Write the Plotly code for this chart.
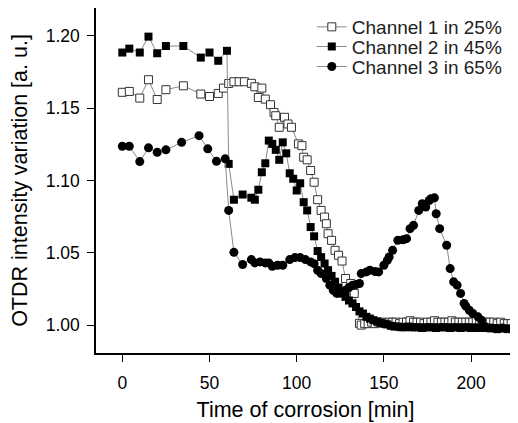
import plotly.graph_objects as go

# Channel 1 in 25% (open squares)
t_ch1 = [0, 4, 10, 15, 20, 25, 35, 45, 50, 55, 58, 61, 64, 67, 70, 74, 76, 78, 80, 82,
         85, 87, 88, 90, 93, 95, 97, 101, 103, 104, 106, 108, 110, 112, 114, 116, 117, 118,
         120, 122, 124, 126, 128, 131, 133, 136, 137, 139, 141, 143, 145, 147, 149, 151, 153,
         155, 157, 159, 161, 163, 165, 167, 169, 171, 173, 175, 177, 179, 181, 183, 185, 187,
         189, 191, 193, 195, 197, 199, 201, 203, 205, 207, 209, 211, 213, 215, 217, 219, 221, 223]
v_ch1 = [1.161, 1.1616, 1.157, 1.1697, 1.156, 1.1628, 1.1655, 1.1598, 1.1581, 1.1602, 1.1639,
         1.1671, 1.1683, 1.1683, 1.1683, 1.1672, 1.1648, 1.1574, 1.1639, 1.1563, 1.1524, 1.1471,
         1.1448, 1.1368, 1.1437, 1.1391, 1.1368, 1.1253, 1.1241, 1.1161, 1.1143, 1.1069, 1.0988,
         1.0867, 1.0793, 1.0747, 1.0701, 1.0632, 1.0586, 1.0517, 1.0483, 1.0443, 1.0322, 1.0288,
         1.0219, 1.0012, 1.000, 1.001, 1.001, 1.002, 1.001, 1.002, 1.002, 1.001, 1.002, 1.002,
         1.002, 1.001, 1.002, 1.002, 1.003, 1.002, 1.002, 1.002, 1.001, 1.002, 1.002, 1.003,
         1.002, 1.002, 1.002, 1.002, 1.003, 1.002, 1.002, 1.002, 1.002, 1.002, 1.002, 1.003,
         1.002, 1.002, 1.002, 1.002, 1.002, 1.001, 1.002, 1.001, 1.001, 1.001]

# Channel 2 in 45% (filled squares)
t_ch2 = [0, 4, 10, 15, 20, 25, 35, 45, 50, 55, 60, 61, 64, 69, 74, 76, 78, 80, 82, 84,
         86, 88, 90, 92, 94, 96, 98, 100, 102, 104, 106, 108, 110, 112, 114, 116, 118, 120,
         122, 124, 126, 128, 130, 132, 134, 136, 138, 140, 142, 144, 146, 148, 150, 152, 154,
         156, 158, 160, 162, 164, 166, 168, 170, 172, 174, 176, 178, 180, 182, 184, 186, 188,
         190, 192, 194, 196, 198, 200, 202, 204, 206, 208, 210, 212, 214]
v_ch2 = [1.1885, 1.1912, 1.1885, 1.1995, 1.188, 1.193, 1.193, 1.185, 1.1885, 1.1828, 1.1897,
         1.1115, 1.0867, 1.0903, 1.0881, 1.0867, 1.0936, 1.1057, 1.1119, 1.1276, 1.1253, 1.1212,
         1.1143, 1.1264, 1.1188, 1.105, 1.1012, 1.0931, 1.0981, 1.085, 1.0793, 1.0678, 1.0614,
         1.0512, 1.047, 1.0426, 1.038, 1.034, 1.030, 1.026, 1.023, 1.0195, 1.017, 1.015, 1.0125,
         1.0095, 1.008, 1.0057, 1.0045, 1.0034, 1.0025, 1.0016, 1.001, 1.0005, 0.9995, 0.999,
         0.999, 0.9985, 0.9985, 0.999, 0.9985, 0.9985, 0.9985, 0.998, 0.9985, 0.9985, 0.9985,
         0.998, 0.9985, 0.9985, 0.9985, 0.998, 0.9985, 0.9985, 0.998, 0.9985, 0.9985, 0.998,
         0.9985, 0.998, 0.998, 0.998, 0.998, 0.998, 0.998]

# Channel 3 in 65% (filled circles)
t_ch3 = [0, 4, 10, 15, 20, 25, 34, 44, 49, 54, 59, 61, 64, 69, 74, 76, 79, 82, 84, 86,
         89, 92, 96, 99, 102, 105, 108, 110, 112, 114, 117, 119, 121, 123, 125, 128, 130, 132,
         134, 136, 137, 140, 142, 145, 147, 150, 152, 153, 155, 158, 161, 163, 165, 167, 170,
         172, 174, 176, 177, 179, 180, 182, 186, 188, 190, 192, 194, 196, 197, 199, 201, 204,
         206, 208, 210, 212, 214, 216, 218, 220, 222, 224]
v_ch3 = [1.1237, 1.1237, 1.1131, 1.1226, 1.1195, 1.1212, 1.1264, 1.131, 1.1219, 1.1133, 1.115,
         1.0793, 1.0503, 1.0419, 1.0453, 1.043, 1.0437, 1.043, 1.043, 1.0407, 1.0414, 1.0414,
         1.0453, 1.0467, 1.0467, 1.0453, 1.0437, 1.0425, 1.0379, 1.0357, 1.0322, 1.0276, 1.024,
         1.0219, 1.022, 1.0241, 1.026, 1.0276, 1.028, 1.0288, 1.0356, 1.0368, 1.038, 1.037,
         1.0368, 1.0414, 1.0448, 1.0471, 1.0517, 1.0586, 1.059, 1.0598, 1.0667, 1.069, 1.0793,
         1.0839, 1.0816, 1.0862, 1.0874, 1.088, 1.077, 1.0667, 1.0552, 1.0391, 1.0299, 1.0276,
         1.0219, 1.015, 1.0131, 1.0103, 1.008, 1.0057, 1.0034, 0.999, 0.998, 0.998, 0.9975,
         0.9975, 0.998, 0.9975, 0.9975, 0.997]

line_grey = "#8a8a8a"
font_family = "Liberation Sans, Arial, sans-serif"

fig = go.Figure()
fig.add_trace(go.Scatter(
    x=t_ch1, y=v_ch1, mode="lines+markers", name="Channel 1 in 25%", legend="legend",
    line=dict(color=line_grey, width=1),
    marker=dict(symbol="square", size=8, color="white", line=dict(color="#333333", width=1)),
))
fig.add_trace(go.Scatter(
    x=t_ch2, y=v_ch2, mode="lines+markers", name="Channel 2 in 45%", legend="legend2",
    line=dict(color=line_grey, width=1),
    marker=dict(symbol="square", size=8, color="black", line=dict(color="black", width=0)),
))
fig.add_trace(go.Scatter(
    x=t_ch3, y=v_ch3, mode="lines+markers", name="Channel 3 in 65%", legend="legend3",
    line=dict(color=line_grey, width=1),
    marker=dict(symbol="circle", size=9, color="black", line=dict(color="black", width=0)),
))

axis_common = dict(
    showline=True, linecolor="black", linewidth=1.5, mirror=True,
    ticks="outside", ticklen=7, tickwidth=1.3, tickcolor="black",
    showgrid=False, zeroline=False, automargin=False,
    tickfont=dict(size=17.5, color="black", family=font_family),
)

# one legend per entry so the rows can sit as tightly as in the original
legend_style = dict(x=0.515, xanchor="left", yanchor="top", bgcolor="rgba(0,0,0,0)",
                    font=dict(size=19, color="#222222"))

# page body adds an 8px offset, so the figure is 8px smaller than the window
fig.update_layout(
    width=510, height=415,
    margin=dict(l=88, r=3, t=0, b=70),
    paper_bgcolor="white", plot_bgcolor="white",
    font=dict(family=font_family, color="black"),
    xaxis=dict(range=[-15.1, 225.2], tickvals=[0, 50, 100, 150, 200], ticklabelstandoff=6,
               title=dict(text="Time of corrosion [min]", font=dict(size=21.5), standoff=10),
               **axis_common),
    yaxis=dict(range=[0.9807, 1.2193], tickvals=[1.00, 1.05, 1.10, 1.15, 1.20], tickformat=".2f",
               ticklabelstandoff=4,
               title=dict(text="OTDR intensity variation [a. u.]", font=dict(size=21.5), standoff=14),
               **axis_common),
    legend=dict(y=1.0, **legend_style),
    legend2=dict(y=0.943, **legend_style),
    legend3=dict(y=0.885, **legend_style),
    showlegend=True,
)

fig.write_html("out.html")
